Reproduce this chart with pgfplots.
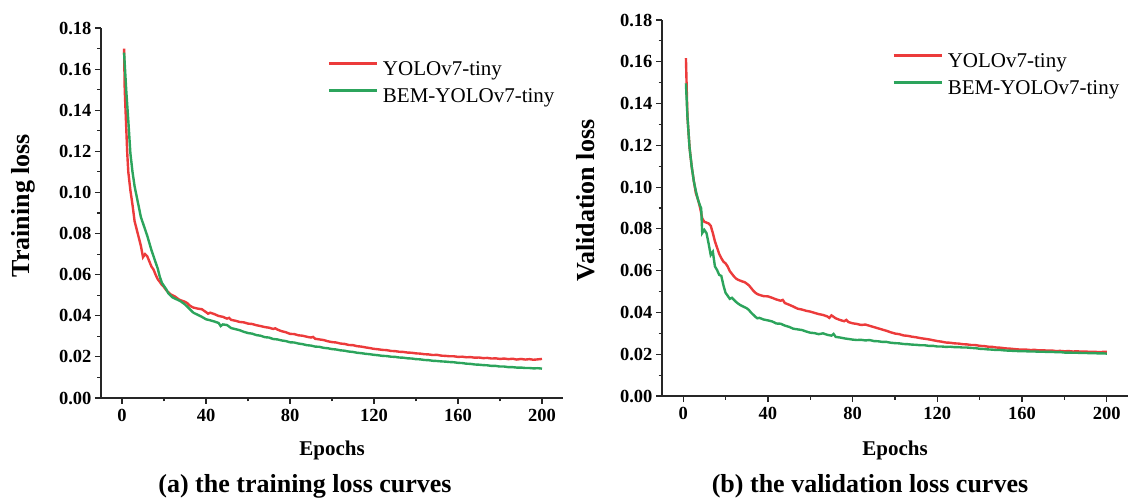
\documentclass[border=0pt]{standalone}
\usepackage{fontspec}
\setmainfont{Liberation Serif}
\usepackage{pgfplots}
\pgfplotsset{compat=1.18}
\definecolor{lossred}{HTML}{EC3B3B}
\definecolor{lossgreen}{HTML}{2CA45C}

\pgfplotsset{
  lossax/.style={
    scale only axis,
    xmin=-10, xmax=210, ymin=0, ymax=0.18,
    axis x line*=bottom, axis y line*=left,
    axis line style={line width=1.4pt, black!85},
    xtick={0,40,80,120,160,200},
    ytick={0,0.02,0.04,0.06,0.08,0.10,0.12,0.14,0.16,0.18},
    minor x tick num=1, minor y tick num=1,
    tick align=outside,
    major tick length=6pt, minor tick length=3.5pt,
    tick style={black!85, line width=1.2pt},
    scaled y ticks=false,
    yticklabel style={/pgf/number format/.cd, fixed, fixed zerofill, precision=2},
    xticklabel style={yshift=-2pt},
    /pgf/number format/assume math mode=true,
    tick label style={font=\fontsize{18.5}{18.5}\selectfont\bfseries},
    legend style={draw=none, fill=none, font=\fontsize{21}{21}\selectfont,
      anchor=north west, inner sep=0pt, row sep=7pt, column sep=5pt,
      nodes={inner sep=0pt, text height=15pt, text depth=5pt}},
    legend cell align=left,
    legend image code/.code={\draw[#1] (0pt,7pt) -- (48pt,7pt);},
    clip=false,
  },
  redline/.style={lossred, line width=2.4pt},
  greenline/.style={lossgreen, line width=2.4pt},
}

\begin{document}
\begin{tikzpicture}
\useasboundingbox (0,0) rectangle (1128pt,498pt);

% (a) training loss
\begin{axis}[lossax,
  at={(101pt,100pt)}, anchor=south west,
  width=462pt, height=370pt,
  xlabel={Epochs}, ylabel={Training loss},
  xlabel style={font=\fontsize{21}{21}\selectfont\bfseries,
    at={(axis description cs:0.5,-0.143)}, anchor=center},
  ylabel style={font=\fontsize{26}{26}\selectfont\bfseries,
    at={(axis description cs:-0.169,0.52)}, anchor=center},
  legend style={at={(axis description cs:0.49,0.913)}},
]
\addplot[redline] coordinates {
(1,0.170) (1.3,0.150) (2,0.132) (2.5,0.119) (3,0.110) (4,0.101) (5,0.094) (6,0.086)
(7,0.082) (8,0.078) (9,0.074) (10,0.0685) (11,0.0700) (12,0.0690) (13,0.0665) (14,0.0640)
(15,0.0625) (16,0.0600) (17,0.0578) (18,0.0565) (19,0.0550) (20,0.0540) (21,0.0525)
(22,0.0515) (23,0.0505) (24,0.0500) (25,0.0495) (26,0.0488) (27,0.0480) (28,0.0475)
(29,0.0472) (30,0.0468) (31,0.0462) (32,0.0452) (33,0.0445) (34,0.0440) (36,0.0435)
(38,0.0432) (39,0.0425) (40,0.0418) (41,0.0410) (42,0.0415) (44,0.0408) (46,0.0399)
(48,0.0395) (50,0.0386) (51,0.0390) (52,0.0380) (54,0.0376) (56,0.0370) (58,0.0368)
(60,0.0362) (62,0.0360) (64,0.0354) (66,0.0350) (68,0.0345) (70,0.0342) (72,0.0336)
(73,0.0339) (74,0.0333) (76,0.0325) (78,0.0320) (80,0.0312) (82,0.0311) (84,0.0305)
(86,0.0303) (88,0.0298) (90,0.0294) (91,0.0297) (92,0.0288) (94,0.0285) (96,0.0282)
(98,0.0276) (100,0.0272) (102,0.0270) (104,0.0265) (106,0.0263) (108,0.0258) (110,0.0257)
(112,0.0252) (114,0.0250) (116,0.0246) (118,0.0243) (120,0.0239) (122,0.0237) (124,0.0234)
(126,0.0233) (128,0.0229) (130,0.0228) (132,0.0225) (134,0.0224) (136,0.0221) (138,0.0220)
(140,0.0217) (142,0.0216) (144,0.0213) (146,0.0212) (148,0.0209) (150,0.0210) (152,0.0206)
(154,0.0205) (156,0.0203) (158,0.0203) (160,0.0200) (162,0.0201) (164,0.0198) (166,0.0199)
(168,0.0196) (170,0.0197) (172,0.0194) (174,0.0195) (176,0.0192) (178,0.0193) (180,0.0190)
(182,0.0192) (184,0.0189) (186,0.0191) (188,0.0187) (190,0.0190) (192,0.0187) (194,0.0189)
(196,0.0186) (198,0.0188) (200,0.0190)
};
\addlegendentry{YOLOv7-tiny}
\addplot[greenline] coordinates {
(1,0.168) (2,0.150) (3,0.135) (4,0.119) (5,0.110) (6,0.103) (7,0.098) (8,0.093)
(9,0.088) (10,0.085) (11,0.082) (12,0.079) (13,0.0755) (14,0.072) (15,0.069) (16,0.066)
(17,0.063) (18,0.059) (19,0.056) (20,0.0545) (21,0.053) (22,0.051) (23,0.050) (24,0.049)
(26,0.048) (28,0.047) (30,0.0455) (32,0.0435) (34,0.0415) (36,0.0405) (38,0.0395)
(40,0.0383) (42,0.0378) (44,0.0372) (46,0.0365) (47,0.0350) (48,0.0358) (50,0.0355)
(52,0.0340) (54,0.0335) (56,0.0330) (58,0.0322) (60,0.0316) (62,0.0313) (64,0.0306)
(66,0.0303) (68,0.0296) (70,0.0294) (72,0.0287) (74,0.0285) (76,0.0280) (78,0.0277)
(80,0.0271) (82,0.0270) (84,0.0265) (86,0.0262) (88,0.0257) (90,0.0255) (92,0.0250)
(94,0.0249) (96,0.0244) (98,0.0242) (100,0.0238) (102,0.0236) (104,0.0232) (106,0.0230)
(108,0.0226) (110,0.0224) (112,0.0220) (114,0.0218) (116,0.0215) (118,0.0213) (120,0.0210)
(122,0.0208) (124,0.0205) (126,0.0204) (128,0.0201) (130,0.0200) (132,0.0197) (134,0.0196)
(136,0.0193) (138,0.0192) (140,0.0189) (142,0.0188) (144,0.0185) (146,0.0184) (148,0.0181)
(150,0.0180) (152,0.0178) (154,0.0177) (156,0.0175) (158,0.0174) (160,0.0171) (162,0.0170)
(164,0.0167) (166,0.0166) (168,0.0163) (170,0.0162) (172,0.0160) (174,0.0159) (176,0.0156)
(178,0.0156) (180,0.0153) (182,0.0153) (184,0.0150) (186,0.0150) (188,0.0148) (190,0.0148)
(192,0.0146) (194,0.0146) (196,0.0144) (198,0.0145) (200,0.0143)
};
\addlegendentry{BEM-YOLOv7-tiny}
\end{axis}

% (b) validation loss
\begin{axis}[lossax,
  at={(662pt,102pt)}, anchor=south west,
  width=466pt, height=376pt,
  xlabel={Epochs}, ylabel={Validation loss},
  xlabel style={font=\fontsize{21}{21}\selectfont\bfseries,
    at={(axis description cs:0.5,-0.146)}, anchor=center},
  ylabel style={font=\fontsize{26}{26}\selectfont\bfseries,
    at={(axis description cs:-0.164,0.52)}, anchor=center},
  legend style={at={(axis description cs:0.494,0.914)}},
]
\addplot[redline] coordinates {
(1.3,0.1617) (2,0.134) (3,0.119) (4,0.110) (5,0.103) (6,0.097) (7,0.094) (8,0.090)
(9,0.085) (10,0.0834) (11,0.0830) (12,0.0826) (13,0.0815) (14,0.078) (15,0.074) (16,0.071)
(17,0.068) (18,0.066) (19,0.0643) (20,0.0635) (21,0.062) (22,0.0598) (23,0.0585)
(24,0.0572) (25,0.0562) (26,0.0556) (27,0.0552) (28,0.0548) (29,0.0545) (30,0.0538)
(31,0.0530) (32,0.0518) (33,0.0505) (34,0.0495) (35,0.0488) (36,0.0484) (38,0.0478)
(40,0.0477) (42,0.0470) (44,0.0462) (46,0.0456) (47,0.0460) (48,0.0445) (50,0.0437)
(52,0.0428) (54,0.0418) (56,0.0414) (58,0.0408) (60,0.0404) (62,0.0398) (64,0.0392)
(66,0.0388) (68,0.0381) (69,0.0374) (70,0.0386) (72,0.0372) (74,0.0364) (76,0.0358)
(77,0.0364) (78,0.0354) (80,0.0348) (82,0.0345) (84,0.0340) (86,0.0342) (88,0.0336)
(90,0.0330) (92,0.0324) (94,0.0318) (96,0.0312) (98,0.0305) (100,0.0299) (102,0.0296)
(104,0.0290) (106,0.0288) (108,0.0284) (110,0.0281) (112,0.0277) (114,0.0274) (116,0.0271)
(118,0.0267) (120,0.0263) (122,0.0260) (124,0.0256) (126,0.0255) (128,0.0252) (130,0.0251)
(132,0.0248) (134,0.0247) (136,0.0244) (138,0.0244) (140,0.0240) (142,0.0239) (144,0.0236)
(146,0.0235) (148,0.0232) (150,0.0231) (152,0.0228) (154,0.0227) (156,0.0225) (158,0.0223)
(160,0.0222) (162,0.0222) (164,0.0220) (166,0.0221) (168,0.0218) (170,0.0219) (172,0.0217)
(174,0.0218) (176,0.0215) (178,0.0216) (180,0.0214) (182,0.0215) (184,0.0213) (186,0.0214)
(188,0.0212) (190,0.0213) (192,0.0211) (194,0.0212) (196,0.0210) (198,0.0211) (200,0.0211)
};
\addlegendentry{YOLOv7-tiny}
\addplot[greenline] coordinates {
(1.3,0.1497) (2,0.134) (3,0.119) (4,0.110) (5,0.103) (6,0.098) (7,0.094) (8,0.091)
(8.5,0.0898) (9,0.078) (10,0.0795) (11,0.078) (12,0.073) (13,0.0675) (14,0.069) (15,0.062)
(16,0.0603) (17,0.058) (18,0.0575) (19,0.053) (20,0.0494) (21,0.0480) (22,0.0465)
(23,0.0470) (24,0.0460) (25,0.0450) (26,0.0442) (27,0.0435) (28,0.0430) (29,0.0425)
(30,0.0420) (31,0.0412) (32,0.0400) (33,0.0390) (34,0.0380) (35,0.0372) (36,0.0374)
(38,0.0366) (40,0.0362) (42,0.0357) (44,0.0347) (46,0.0346) (48,0.0337) (50,0.0331)
(52,0.0322) (54,0.0319) (56,0.0316) (58,0.0309) (60,0.0303) (62,0.0301) (64,0.0296)
(66,0.0300) (68,0.0293) (70,0.0289) (71,0.0297) (72,0.0283) (74,0.0280) (76,0.0276)
(78,0.0273) (80,0.0270) (82,0.0268) (84,0.0269) (86,0.0266) (88,0.0268) (90,0.0263)
(92,0.0262) (94,0.0259) (96,0.0259) (98,0.0255) (100,0.0253) (102,0.0252) (104,0.0249)
(106,0.0248) (108,0.0246) (110,0.0245) (112,0.0243) (114,0.0243) (116,0.0240) (118,0.0240)
(120,0.0237) (122,0.0237) (124,0.0235) (126,0.0236) (128,0.0234) (130,0.0234) (132,0.0232)
(134,0.0232) (136,0.0230) (138,0.0229) (140,0.0226) (142,0.0225) (144,0.0223) (146,0.0222)
(148,0.0220) (150,0.0220) (152,0.0218) (154,0.0217) (156,0.0216) (158,0.0215) (160,0.0214)
(162,0.0214) (164,0.0213) (166,0.0213) (168,0.0212) (170,0.0212) (172,0.0211) (174,0.0211)
(176,0.0210) (178,0.0210) (180,0.0208) (182,0.0208) (184,0.0207) (186,0.0207) (188,0.0206)
(190,0.0206) (192,0.0205) (194,0.0205) (196,0.0204) (198,0.0204) (200,0.0203)
};
\addlegendentry{BEM-YOLOv7-tiny}
\end{axis}

\node[font=\fontsize{26}{26}\selectfont\bfseries, anchor=base] at (305pt,5pt)
  {(a) the training loss curves};
\node[font=\fontsize{26}{26}\selectfont\bfseries, anchor=base] at (870pt,5pt)
  {(b) the validation loss curves};
\end{tikzpicture}
\end{document}
